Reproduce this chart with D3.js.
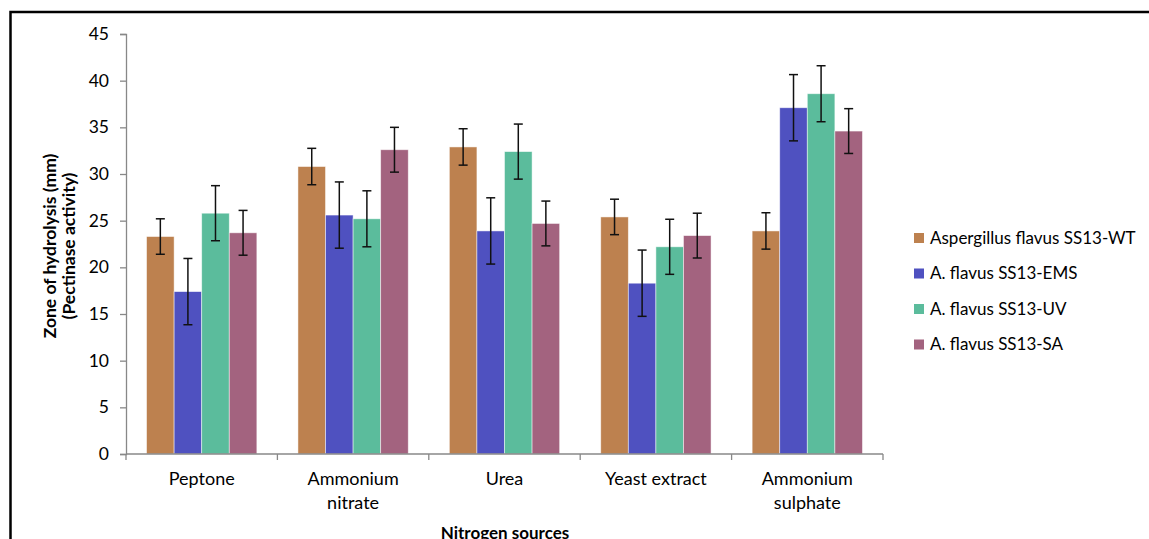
<!DOCTYPE html>
<html>
<head>
<meta charset="utf-8">
<script src="https://cdn.jsdelivr.net/npm/d3@7/dist/d3.min.js"></script>
<style>
  body { margin: 0; background: #fff; }
  svg text { font-family: Lato, "Open Sans", sans-serif; fill: #000; }
</style>
</head>
<body>
<div id="chart-area"></div>
<script>
// nitrogen sources on the x axis
var categories = ["Peptone", "Ammonium nitrate", "Urea", "Yeast extract", "Ammonium sulphate"];
var categoryLines = [["Peptone"], ["Ammonium", "nitrate"], ["Urea"], ["Yeast extract"], ["Ammonium", "sulphate"]];

var seriesNames = ["Aspergillus flavus SS13-WT", "A. flavus SS13-EMS", "A. flavus SS13-UV", "A. flavus SS13-SA"];

// zone of hydrolysis (mm), one array per strain
var wt  = [23.3, 30.8, 32.9, 25.4, 23.9];
var ems = [17.4, 25.6, 23.9, 18.3, 37.1];
var uv  = [25.8, 25.2, 32.4, 22.2, 38.6];
var sa  = [23.7, 32.6, 24.7, 23.4, 34.6];

// error bar half-lengths
var wtErr  = [1.9, 1.95, 1.95, 1.9, 1.95];
var emsErr = [3.55, 3.55, 3.55, 3.55, 3.55];
var uvErr  = [2.95, 3.0, 2.95, 2.95, 3.0];
var saErr  = [2.4, 2.4, 2.4, 2.4, 2.4];

var yTicks = [0, 5, 10, 15, 20, 25, 30, 35, 40, 45];

var values = [wt, ems, uv, sa];
var errors = [wtErr, emsErr, uvErr, saErr];
var colors = ["#bd814f", "#4f51c0", "#5bbc9c", "#a3637f"];

var width = 1149, height = 539;

var svg = d3.select("#chart-area").append("svg")
	.attr("width", width)
	.attr("height", height);

// outer frame (runs off the right and bottom edges)
svg.append("rect")
	.attr("x", 10.5).attr("y", 12)
	.attr("width", 1160).attr("height", 560)
	.attr("fill", "none")
	.attr("stroke", "#000")
	.attr("stroke-width", 2.5);

var plotLeft = 126, plotRight = 883, plotTop = 34, plotBottom = 454;

var x0 = d3.scaleBand()
	.domain(categories)
	.range([plotLeft, plotRight]);

var x1 = d3.scaleBand()
	.domain(seriesNames)
	.range([0, x0.bandwidth()])
	.paddingOuter(0.745);

var y = d3.scaleLinear()
	.domain([0, 45])
	.range([plotBottom, plotTop]);

// rows for drawing
var rows = [];
categories.forEach(function(c, i){
	seriesNames.forEach(function(s, j){
		rows.push({cat: c, ser: s, v: values[j][i], e: errors[j][i], color: colors[j]});
	});
});

svg.selectAll("rect.bar")
	.data(rows)
	.enter()
	.append("rect")
		.attr("class", "bar")
		.attr("x", function(d){ return x0(d.cat) + x1(d.ser); })
		.attr("y", function(d){ return y(d.v); })
		.attr("width", x1.bandwidth())
		.attr("height", function(d){ return plotBottom - y(d.v); })
		.attr("fill", function(d){ return d.color; })
		.attr("stroke", "rgba(255,255,255,0.6)")
		.attr("stroke-width", 0.8);

// error bars
var eb = svg.selectAll("g.err")
	.data(rows)
	.enter()
	.append("g")
		.attr("class", "err")
		.attr("transform", function(d){
			return "translate(" + (x0(d.cat) + x1(d.ser) + x1.bandwidth() / 2) + ",0)";
		})
		.attr("stroke", "#111")
		.attr("stroke-width", 1.5);

eb.append("line")
	.attr("x1", 0).attr("x2", 0)
	.attr("y1", function(d){ return y(d.v + d.e); })
	.attr("y2", function(d){ return y(d.v - d.e); });
eb.append("line")
	.attr("x1", -4.5).attr("x2", 4.5)
	.attr("y1", function(d){ return y(d.v + d.e); })
	.attr("y2", function(d){ return y(d.v + d.e); });
eb.append("line")
	.attr("x1", -4.5).attr("x2", 4.5)
	.attr("y1", function(d){ return y(d.v - d.e); })
	.attr("y2", function(d){ return y(d.v - d.e); });

// y axis
var yAxis = svg.append("g")
	.attr("transform", "translate(" + plotLeft + ",0)")
	.call(d3.axisLeft(y).tickValues(yTicks).tickSize(6).tickPadding(11));
yAxis.select(".domain").attr("stroke", "#888").attr("stroke-width", 1.3);
yAxis.selectAll(".tick line").attr("stroke", "#888").attr("stroke-width", 1.3);
yAxis.selectAll(".tick text")
	.style("font-size", "17.5px")
	.style("font-family", "Lato, sans-serif")
	.attr("fill", "#000");

// x axis line and boundary ticks
var xg = svg.append("g");
xg.append("line")
	.attr("x1", plotLeft).attr("x2", plotRight)
	.attr("y1", plotBottom).attr("y2", plotBottom)
	.attr("stroke", "#888").attr("stroke-width", 1.3);
var bounds = categories.map(function(c){ return x0(c); }).concat([plotRight]);
xg.selectAll("line.tk")
	.data(bounds)
	.enter()
	.append("line")
		.attr("class", "tk")
		.attr("x1", function(d){ return d; })
		.attr("x2", function(d){ return d; })
		.attr("y1", plotBottom).attr("y2", plotBottom + 6)
		.attr("stroke", "#888").attr("stroke-width", 1.3);

var labels = xg.selectAll("text.cat")
	.data(categories)
	.enter()
	.append("text")
		.attr("class", "cat")
		.attr("text-anchor", "middle")
		.style("font-size", "18px")
		.attr("transform", function(d){
			return "translate(" + (x0(d) + x0.bandwidth() / 2) + ",485)";
		});
labels.selectAll("tspan")
	.data(function(d, i){ return categoryLines[i]; })
	.enter()
	.append("tspan")
		.attr("x", 0)
		.attr("dy", function(d, i){ return i === 0 ? 0 : 24; })
		.text(function(d){ return d; });

// axis titles (x title is clipped by the bottom edge, as in the original)
svg.append("text")
	.attr("x", 505).attr("y", 539)
	.attr("text-anchor", "middle")
	.style("font-size", "17px")
	.style("font-weight", "bold")
	.text("Nitrogen sources");

var yt = svg.append("text")
	.attr("transform", "translate(56,246) rotate(-90)")
	.attr("text-anchor", "middle")
	.style("font-size", "17.5px")
	.style("font-weight", "bold");
yt.append("tspan").attr("x", 0).attr("dy", 0).text("Zone of hydrolysis (mm)");
yt.append("tspan").attr("x", 0).attr("dy", 19).text("(Pectinase activity)");

// legend
var legend = svg.selectAll("g.leg")
	.data(seriesNames)
	.enter()
	.append("g")
		.attr("class", "leg")
		.attr("transform", function(d, i){ return "translate(914," + (233 + i * 35.5) + ")"; });
legend.append("rect")
	.attr("width", 10).attr("height", 10)
	.attr("fill", function(d, i){ return colors[i]; });
legend.append("text")
	.attr("x", 16).attr("y", 10.5)
	.style("font-size", "17px")
	.text(function(d){ return d; });
</script>
</body>
</html>
